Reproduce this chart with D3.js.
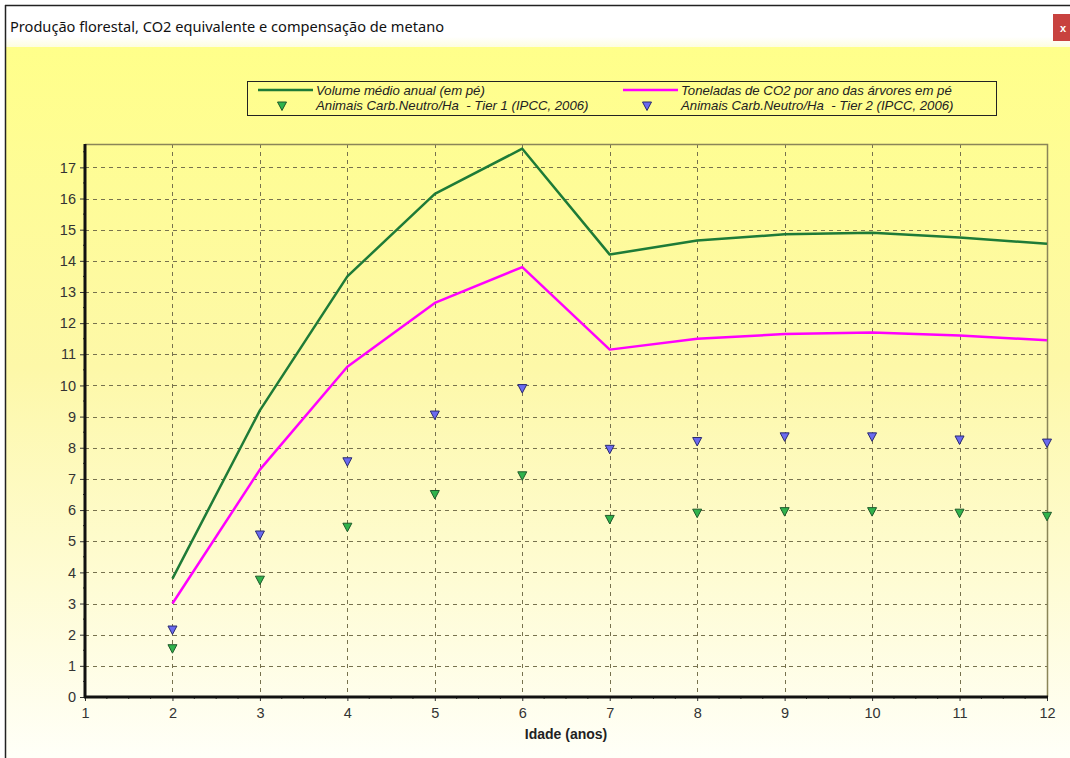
<!DOCTYPE html>
<html>
<head>
<meta charset="utf-8">
<script src="https://cdn.jsdelivr.net/npm/d3@7"></script>
<style>
  body { margin: 0; background: #fff; overflow: hidden; }
  svg { display: block; }
</style>
</head>
<body>
<svg id="chart" width="1070" height="758"></svg>
<script>
// idade (anos)
var ages = [2, 3, 4, 5, 6, 7, 8, 9, 10, 11, 12];
var volumeMedio = [3.8, 9.2, 13.5, 16.15, 17.6, 14.2, 14.65, 14.85, 14.9, 14.75, 14.55];
var toneladasCO2 = [3.0, 7.3, 10.6, 12.65, 13.8, 11.15, 11.5, 11.65, 11.7, 11.6, 11.45];
var tier1 = [1.55, 3.75, 5.45, 6.5, 7.1, 5.7, 5.9, 5.95, 5.95, 5.9, 5.8];
var tier2 = [2.15, 5.2, 7.55, 9.05, 9.9, 7.95, 8.2, 8.35, 8.35, 8.25, 8.15];
var xTicks = [1, 2, 3, 4, 5, 6, 7, 8, 9, 10, 11, 12];
var yTicks = d3.range(0, 18);

var svg = d3.select('#chart');
var W = 1070, H = 758;
var plot = {left: 85, top: 144, right: 1047, bottom: 697};
var font = 'Arial, Liberation Sans, sans-serif';

var defs = svg.append('defs');
var grad = defs.append('linearGradient').attr('id', 'bg').attr('x1', 0).attr('y1', 0).attr('x2', 0).attr('y2', 1);
grad.append('stop').attr('offset', '0%').attr('stop-color', '#ffff8a');
grad.append('stop').attr('offset', '45%').attr('stop-color', '#fdf8a8');
grad.append('stop').attr('offset', '100%').attr('stop-color', '#fffff8');
var tgrad = defs.append('linearGradient').attr('id', 'tb').attr('x1', 0).attr('y1', 0).attr('x2', 0).attr('y2', 1);
tgrad.append('stop').attr('offset', '0%').attr('stop-color', '#ffffff');
tgrad.append('stop').attr('offset', '75%').attr('stop-color', '#ffffff');
tgrad.append('stop').attr('offset', '100%').attr('stop-color', '#fdfde0');

// window frame
svg.append('rect').attr('x', 0).attr('y', 0).attr('width', W).attr('height', H).attr('fill', '#fff');
svg.append('rect').attr('x', 6).attr('y', 6).attr('width', W - 6).attr('height', 41).attr('fill', 'url(#tb)');
svg.append('rect').attr('x', 6).attr('y', 47).attr('width', W - 6).attr('height', H - 47).attr('fill', 'url(#bg)');
svg.append('line').attr('x1', 5).attr('x2', W).attr('y1', 5.5).attr('y2', 5.5).attr('stroke', '#222').attr('stroke-width', 1.5);
svg.append('line').attr('x1', 5.5).attr('x2', 5.5).attr('y1', 5).attr('y2', H).attr('stroke', '#222').attr('stroke-width', 1.5);

svg.append('text').attr('x', 10).attr('y', 32)
    .attr('font-family', 'Noto Sans, Open Sans, sans-serif').attr('font-size', 14.6).attr('fill', '#111')
    .text('Produção florestal, CO2 equivalente e compensação de metano');

svg.append('rect').attr('x', 1053).attr('y', 14).attr('width', 17).attr('height', 27).attr('fill', '#c8423f');
svg.append('text').attr('x', 1063).attr('y', 32).attr('text-anchor', 'middle')
    .attr('font-family', font).attr('font-size', 11).attr('font-weight', 'bold').attr('fill', '#fff').text('x');

// scales
var x = d3.scaleLinear().domain([1, 12]).range([plot.left, plot.right]);
var y = d3.scaleLinear().domain([0, 17.75]).range([plot.bottom, plot.top]);

// grid
var grid = svg.append('g').attr('stroke', '#77724e').attr('stroke-width', 1).attr('stroke-dasharray', '4,4');
grid.selectAll('.gx').data(xTicks.slice(1, -1)).enter().append('line')
    .attr('x1', function (d) { return Math.round(x(d)) + 0.5; })
    .attr('x2', function (d) { return Math.round(x(d)) + 0.5; })
    .attr('y1', plot.top).attr('y2', plot.bottom);
grid.selectAll('.gy').data(yTicks.slice(1)).enter().append('line')
    .attr('y1', function (d) { return Math.round(y(d)) + 0.5; })
    .attr('y2', function (d) { return Math.round(y(d)) + 0.5; })
    .attr('x1', plot.left).attr('x2', plot.right);

// frame top / right
svg.append('path')
    .attr('d', 'M' + plot.left + ',' + (plot.top + 0.5) + 'H' + (plot.right + 0.5) + 'V' + plot.bottom)
    .attr('fill', 'none').attr('stroke', '#8a8558').attr('stroke-width', 1.5);

// axes
var xAxis = svg.append('g').attr('transform', 'translate(0,' + plot.bottom + ')')
    .call(d3.axisBottom(x).tickValues(xTicks).tickFormat(d3.format('d')).tickSize(4).tickPadding(7));
var yAxis = svg.append('g').attr('transform', 'translate(' + plot.left + ',0)')
    .call(d3.axisLeft(y).tickValues(yTicks).tickFormat(d3.format('d')).tickSize(5).tickPadding(4));
[xAxis, yAxis].forEach(function (a) {
    a.select('.domain').remove();
    a.attr('font-size', null).attr('font-family', null);
    a.selectAll('.tick line').attr('stroke', '#333');
    a.selectAll('.tick text').style('font-family', font)
        .style('font-size', '14.5px').attr('fill', '#333');
});

// minor ticks
var minorX = [];
xTicks.slice(0, -1).forEach(function (t) { for (var k = 1; k < 4; k++) minorX.push(t + k / 4); });
svg.append('g').selectAll('line').data(minorX).enter().append('line')
    .attr('x1', function (d) { return x(d); }).attr('x2', function (d) { return x(d); })
    .attr('y1', plot.bottom).attr('y2', plot.bottom + 2).attr('stroke', '#333');
var minorY = [];
yTicks.forEach(function (t) { minorY.push(t + 0.5); });
svg.append('g').selectAll('line').data(minorY.filter(function (d) { return d < 17.75; })).enter().append('line')
    .attr('y1', function (d) { return y(d); }).attr('y2', function (d) { return y(d); })
    .attr('x1', plot.left - 2).attr('x2', plot.left).attr('stroke', '#333');

svg.append('line').attr('x1', plot.left).attr('x2', plot.left).attr('y1', plot.top).attr('y2', plot.bottom + 1)
    .attr('stroke', '#111').attr('stroke-width', 3);
svg.append('line').attr('x1', plot.left - 1).attr('x2', plot.right + 1).attr('y1', plot.bottom).attr('y2', plot.bottom)
    .attr('stroke', '#111').attr('stroke-width', 3);

svg.append('text').attr('x', 566).attr('y', 739).attr('text-anchor', 'middle')
    .attr('font-family', font).attr('font-size', 14).attr('font-weight', 'bold')
    .attr('fill', '#222').text('Idade (anos)');

// series
var line = d3.line()
    .x(function (d, i) { return x(ages[i]); })
    .y(function (d) { return y(d); });
svg.append('path').datum(volumeMedio).attr('d', line).attr('fill', 'none')
    .attr('stroke', '#1e7b37').attr('stroke-width', 2.5).attr('stroke-linejoin', 'round');
svg.append('path').datum(toneladasCO2).attr('d', line).attr('fill', 'none')
    .attr('stroke', '#ff00ff').attr('stroke-width', 2.5).attr('stroke-linejoin', 'round');

function tri(cx, cy) {
    return 'M' + (cx - 4.5) + ',' + (cy - 4) + 'L' + (cx + 4.5) + ',' + (cy - 4) + 'L' + cx + ',' + (cy + 4.5) + 'Z';
}
svg.append('g').selectAll('path').data(tier2).enter().append('path')
    .attr('d', function (d, i) { return tri(x(ages[i]), y(d)); })
    .attr('fill', '#6a6af0').attr('stroke', '#2a2a70').attr('stroke-width', 1);
svg.append('g').selectAll('path').data(tier1).enter().append('path')
    .attr('d', function (d, i) { return tri(x(ages[i]), y(d)); })
    .attr('fill', '#2fb34c').attr('stroke', '#1f5a2a').attr('stroke-width', 1);

// legend
var lg = svg.append('g');
lg.append('rect').attr('x', 247.5).attr('y', 81.5).attr('width', 749).attr('height', 34)
    .attr('fill', 'none').attr('stroke', '#222').attr('stroke-width', 1);
var legendItems = [
    {type: 'line', color: '#1e7b37', label: 'Volume médio anual (em pé)', x: 258, y: 90},
    {type: 'line', color: '#ff00ff', label: 'Toneladas de CO2 por ano das árvores em pé', x: 623, y: 90},
    {type: 'tri', color: '#2fb34c', stroke: '#1f5a2a', label: 'Animais Carb.Neutro/Ha  - Tier 1 (IPCC, 2006)', x: 258, y: 105},
    {type: 'tri', color: '#6a6af0', stroke: '#2a2a70', label: 'Animais Carb.Neutro/Ha  - Tier 2 (IPCC, 2006)', x: 623, y: 105}
];
legendItems.forEach(function (it) {
    if (it.type === 'line') {
        lg.append('line').attr('x1', it.x).attr('x2', it.x + 55).attr('y1', it.y).attr('y2', it.y)
            .attr('stroke', it.color).attr('stroke-width', 2.5);
    } else {
        lg.append('path').attr('d', tri(it.x + 24, it.y + 1)).attr('fill', it.color).attr('stroke', it.stroke);
    }
    lg.append('text').attr('x', it.x + 58).attr('y', it.y + 4.5)
        .attr('font-family', font).attr('font-size', 13.2)
        .attr('font-style', 'italic').attr('fill', '#222')
        .style('white-space', 'pre').text(it.label);
});
</script>
</body>
</html>
